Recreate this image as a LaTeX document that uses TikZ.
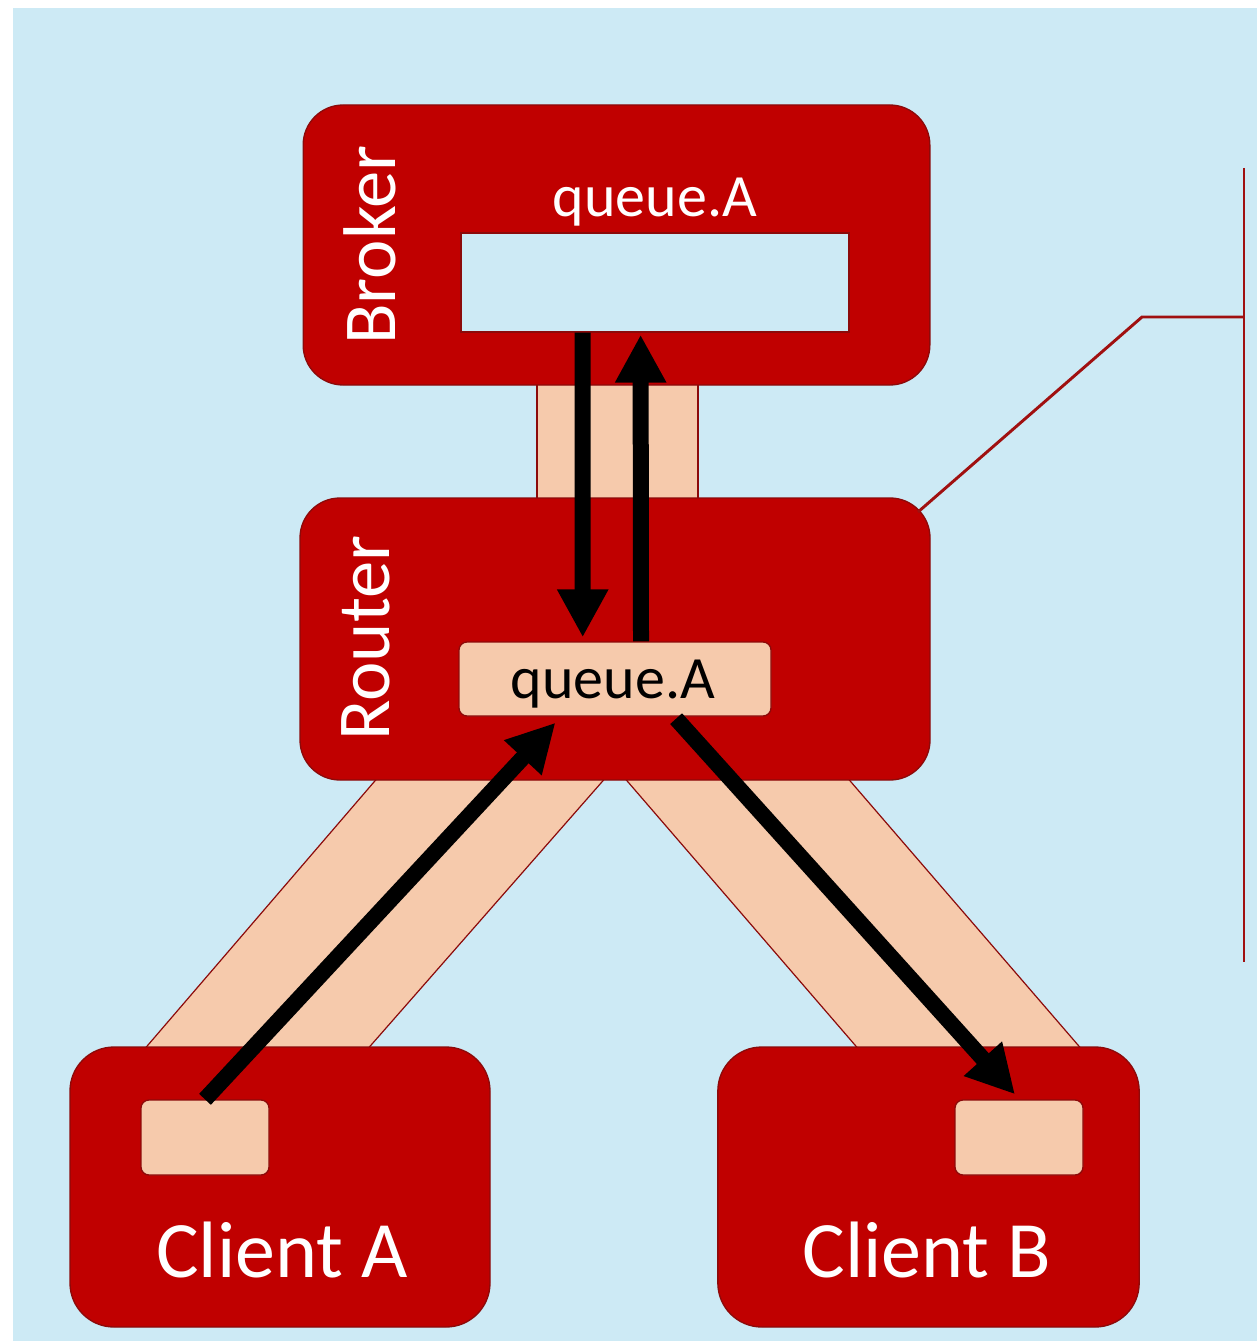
\documentclass[tikz,border=0pt]{standalone}
\usepackage{fontspec}
\setmainfont{Carlito}
\usetikzlibrary{arrows.meta,calc}
\definecolor{bgblue}{RGB}{205,234,245}
\definecolor{boxred}{RGB}{192,0,0}
\definecolor{edgered}{RGB}{140,10,10}
\definecolor{linered}{RGB}{160,16,16}
\definecolor{peach}{RGB}{246,202,172}
\begin{document}
\begin{tikzpicture}[x=0.75pt,y=-0.75pt,
  panel/.style={draw=edgered, line width=1pt, fill=boxred, inner sep=0pt},
  slot/.style={draw=edgered, line width=1pt, fill=peach, rounded corners=6pt, inner sep=0pt},
  band/.style={draw=edgered, line width=0.9pt, fill=peach},
  flow/.style={line width=12pt, -{Triangle[width=36pt,length=36pt]}},
  callout/.style={draw=linered, line width=2.2pt},
  whitetext/.style={text=white, inner sep=0pt},
]
% canvas
\useasboundingbox (0,0) rectangle (1257,1341);
\fill[white] (0,0) rectangle (1257,1341);
\fill[bgblue] (13,8) rectangle (1257,1341);

% links between the components
\draw[band] (537,380) rectangle (698,503);
\draw[band] (380,775) -- (608,775) -- (365,1052) -- (142,1052) -- cycle;
\draw[band] (622,775) -- (845,775) -- (1084,1052) -- (861,1052) -- cycle;

% components
\node[panel, rounded corners=30pt, minimum width=470pt, minimum height=210pt] (broker) at (616.5,245) {};
\node[panel, rounded corners=30pt, minimum width=472.5pt, minimum height=211.5pt] (router) at (615,639) {};
\node[panel, rounded corners=33pt, minimum width=315pt, minimum height=210pt] (clientA) at (280,1187) {};
\node[panel, rounded corners=33pt, minimum width=316pt, minimum height=210pt] (clientB) at (928.5,1187) {};

% queues and client endpoints
\node[draw=edgered, line width=1pt, fill=bgblue, minimum width=291pt, minimum height=74.25pt, inner sep=0pt] (bq) at (655,282.5) {};
\node[slot, minimum width=234pt, minimum height=55.5pt] (rq) at (615,679) {};
\node[slot, minimum width=96pt, minimum height=56.25pt] (aq) at (205,1137.5) {};
\node[slot, minimum width=96pt, minimum height=56.25pt] (bq2) at (1019,1137.5) {};

% labels
\node[whitetext, rotate=90, anchor=base, font=\fontsize{56}{60}\selectfont] (brokerlbl) at (395,245) {Broker};
\node[whitetext, rotate=90, anchor=base, font=\fontsize{56}{60}\selectfont] (routerlbl) at (389,638) {Router};
\node[whitetext, anchor=base, font=\fontsize{45}{50}\selectfont] (bqlbl) at (655,217) {queue.A};
\node[inner sep=0pt, anchor=base, font=\fontsize{45}{50}\selectfont] (rqlbl) at (613,698) {queue.A};
\node[whitetext, anchor=base, font=\fontsize{60}{66}\selectfont] (alabel) at (282,1277) {Client A};
\node[whitetext, anchor=base, font=\fontsize{60}{66}\selectfont] (blabel) at (927,1277) {Client B};

% message flow
\coordinate (downS) at ($(bq.south west)!0.314!(bq.south east)$);
\coordinate (downE) at ($(rq.north west)!0.397!(rq.north east)+(0,-4)$);
\coordinate (upS) at ($(rq.north west)!0.583!(rq.north east)$);
\coordinate (upE) at ($(bq.south west)!0.463!(bq.south east)+(0,2)$);
\coordinate (inE) at ($(rq.south west)!0.31!(rq.south east)+(0,6)$);
\coordinate (outS) at ($(rq.south west)!0.695!(rq.south east)+(0,2)$);
\coordinate (outE) at ($(bq2.north)+(-4,-5)$);
\draw[flow] (downS) -- (downE);
\draw[flow] (upS) -- (upE);
\draw[flow] (aq.north) -- (inE);
\draw[flow] (outS) -- (outE);

% bracket for the router
\coordinate (rcorner) at (918,512);
\coordinate (elbow) at (1142,317);
\coordinate (btop) at (1244,168);
\coordinate (bbot) at (1244,962);
\draw[callout] (rcorner) -- (elbow) -- (1244,317);
\draw[callout] (btop) -- (bbot);
\end{tikzpicture}
\end{document}
